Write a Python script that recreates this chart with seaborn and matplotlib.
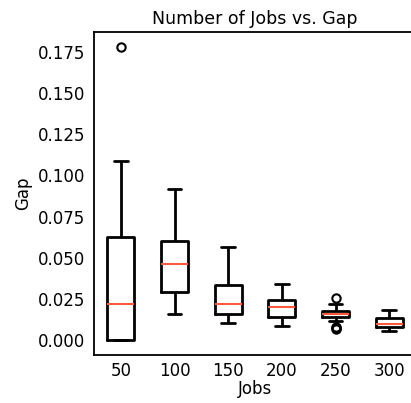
import matplotlib
matplotlib.use("Agg")
import matplotlib.pyplot as plt
import pandas as pd
import seaborn as sns

# Optimality gap per instance, grouped by number of jobs
jobs = [50, 100, 150, 200, 250, 300]
gap_50 = [0.0, 0.0, 0.0, 0.008, 0.0223, 0.041, 0.0624, 0.1089, 0.178]
gap_100 = [0.0159, 0.024, 0.0292, 0.038, 0.046, 0.052, 0.0604, 0.075, 0.0917]
gap_150 = [0.0102, 0.013, 0.0159, 0.019, 0.0221, 0.028, 0.0335, 0.045, 0.0567]
gap_200 = [0.0084, 0.011, 0.0143, 0.018, 0.0205, 0.0225, 0.0244, 0.029, 0.0343]
gap_250 = [0.0068, 0.0074, 0.0082, 0.0118, 0.0142, 0.0148, 0.0153, 0.0157,
           0.0160, 0.0164, 0.0170, 0.0175, 0.0180, 0.0190, 0.0205, 0.0222, 0.0256]
gap_300 = [0.0057, 0.0068, 0.0078, 0.0088, 0.0096, 0.0112, 0.0136, 0.0160, 0.0184]

groups = [gap_50, gap_100, gap_150, gap_200, gap_250, gap_300]
df = pd.DataFrame({
    "Jobs": [j for j, g in zip(jobs, groups) for _ in g],
    "Gap": [v for g in groups for v in g],
})

sns.set_style("white")
plt.rcParams["font.family"] = ["DejaVu Sans"]

fig = plt.figure(figsize=(4.11, 4.03), dpi=100)
ax = fig.add_axes([94 / 411, 48 / 403, 322 / 411, 323 / 403])

sns.boxplot(
    data=df, x="Jobs", y="Gap", order=jobs, ax=ax,
    fill=False, color="black", linewidth=2, width=0.5,
    medianprops=dict(color="#ff5a3c", linewidth=1.5),
    flierprops=dict(marker="o", markersize=6, markeredgewidth=1.5,
                    markeredgecolor="black", markerfacecolor="none"),
)

ax.set_title("Number of Jobs vs. Gap", fontsize=12.5, color="black")
ax.set_xlabel("Jobs", fontsize=12, color="black", labelpad=0)
ax.set_ylabel("Gap", fontsize=12, color="black")
ax.tick_params(axis="y", length=0, pad=6.5, labelsize=12, labelcolor="black")
ax.tick_params(axis="x", length=0, pad=5, labelsize=12, labelcolor="black")
for side in ["left", "bottom", "top", "right"]:
    ax.spines[side].set_color("black")
    ax.spines[side].set_linewidth(1.3)

fig.savefig("out.png", dpi=100)
